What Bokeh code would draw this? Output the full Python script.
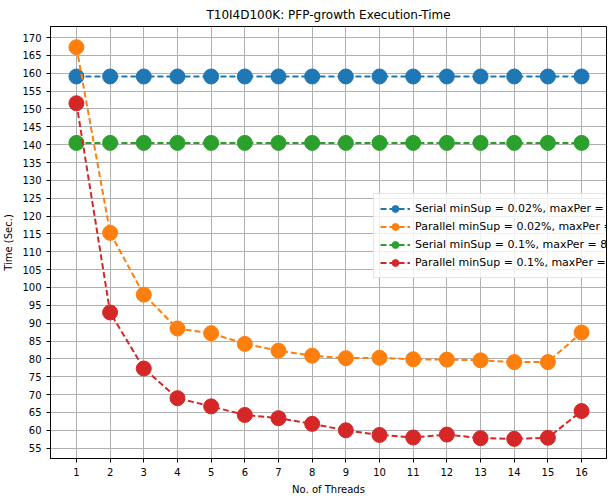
from bokeh.plotting import figure
from bokeh.models import Legend, LegendItem, FixedTicker, Range1d
from bokeh.embed import file_html
from bokeh.resources import INLINE

threads = list(range(1, 17))
serial_002 = [159.1] * 16
parallel_002 = [167.3, 115.3, 98.0, 88.5, 87.2, 84.2, 82.3, 80.9, 80.2, 80.3, 79.9, 79.8, 79.6, 79.1, 79.1, 87.4]
serial_01 = [140.5] * 16
parallel_01 = [151.6, 93.0, 77.3, 69.0, 66.7, 64.3, 63.4, 61.8, 60.0, 58.7, 58.0, 58.8, 57.8, 57.6, 57.9, 65.4]

series = [
    ("Serial minSup = 0.02%, maxPer = 8%", serial_002, "#1f77b4"),
    ("Parallel minSup = 0.02%, maxPer = 8%", parallel_002, "#ff7f0e"),
    ("Serial minSup = 0.1%, maxPer = 8%", serial_01, "#2ca02c"),
    ("Parallel minSup = 0.1%, maxPer = 8%", parallel_01, "#d62728"),
]

p = figure(frame_width=556, frame_height=432, output_backend="svg", toolbar_location=None,
           title="T10I4D100K: PFP-growth Execution-Time",
           x_axis_label="No. of Threads", y_axis_label="Time (Sec.)",
           x_range=Range1d(0.23, 16.74), y_range=Range1d(52.1, 173.1),
           min_border_left=5, min_border_right=5, min_border_top=5, min_border_bottom=5)
p.title.align = "center"
p.title.text_font = "DejaVu Sans"
p.title.text_font_size = "12px"
p.title.text_font_style = "normal"
p.title.text_color = "black"

p.xaxis.ticker = FixedTicker(ticks=threads)
p.yaxis.ticker = FixedTicker(ticks=list(range(55, 171, 5)))
for ax in (p.xaxis, p.yaxis):
    ax.axis_label_text_font = "DejaVu Sans"
    ax.axis_label_text_font_size = "10px"
    ax.axis_label_text_font_style = "normal"
    ax.axis_label_text_color = "black"
    ax.major_label_text_font = "DejaVu Sans"
    ax.major_label_text_font_size = "10px"
    ax.major_label_text_color = "black"
    ax.minor_tick_line_color = None
    ax.major_tick_in = 0
    ax.major_tick_out = 4
    ax.axis_line_color = "black"
p.grid.grid_line_color = "#b0b0b0"
p.grid.grid_line_alpha = 1
p.outline_line_color = "black"
p.background_fill_color = "white"

items = []
for label, ys, color in series:
    l = p.line(threads, ys, line_color=color, line_width=2, line_dash="6 3")
    c = p.scatter(threads, ys, size=15, fill_color=color, line_color=color)
    items.append(LegendItem(label=label, renderers=[l, c]))

legend = Legend(items=items)
legend.label_text_font = "DejaVu Sans"
legend.label_text_font_size = "11px"
legend.label_text_color = "black"
legend.label_height = 17
legend.glyph_height = 17
legend.glyph_width = 30
legend.spacing = 1
legend.padding = 6
legend.margin = 0
legend.border_line_color = "#cccccc"
legend.background_fill_alpha = 0.8
p.add_layout(legend, "center")
legend.location = (323, 180)

open("out.html", "w").write(file_html(p, INLINE))
